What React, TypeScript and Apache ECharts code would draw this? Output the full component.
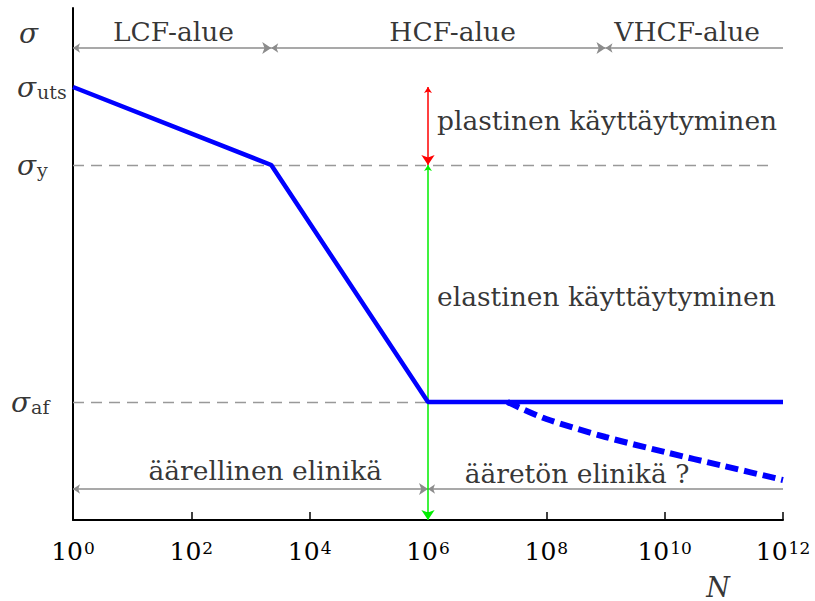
import React, { useEffect, useRef } from "react";
import * as echarts from "echarts";

// ---- data (stress levels in arbitrary units, N in cycles) ----
const curveN = [1, 2240, 1e6, 1e12];
const curveS = [433, 355, 118, 118];
const infN = [2.2e7, 1e8, 1e9, 1e10, 1e11, 1e12];
const infS = [118, 101, 83, 68, 54, 40];

const sigmaUts = 433;
const sigmaY = 355;
const sigmaAf = 118;
const kneeN = 2240;
const enduranceN = 1e6;
const vhcfN = 1e9;
const maxN = 1e12;
const minN = 1;
const yMax = 512;
const regionLevel = 472;
const lifeLevel = 31;
const yieldDashEnd = 5.6e11;

const tickExponents = [0, 2, 4, 6, 8, 10, 12];

const FONT = "DejaVu Serif";

export default function App() {
  const ref = useRef<HTMLDivElement>(null);
  useEffect(() => {
    if (!ref.current) return;
    const chart = echarts.init(ref.current, undefined, { renderer: "svg" });

    const gray = "#8c8c8c";

    const baseRich = {
      t: { fontFamily: FONT, fontSize: 26.5, lineHeight: 28, color: "#000" },
      n: { fontFamily: FONT, fontStyle: "italic", fontSize: 27, lineHeight: 22, color: "#000" },
      s: { fontFamily: FONT, fontStyle: "italic", fontSize: 28, lineHeight: 28, verticalAlign: "top", color: "#000" },
      u: { fontFamily: FONT, fontSize: 19, lineHeight: 19, padding: [12, 0, 0, 1], verticalAlign: "bottom", color: "#000" },
    };

    const mk = (x: number, y: number, text: string, pos: [number, number], align: string) => ({
      value: [x, y],
      label: {
        show: true,
        formatter: text,
        position: pos,
        align,
        verticalAlign: "middle",
        color: "#000",
        textBorderWidth: 0,
        fontFamily: FONT,
        rich: baseRich,
      },
    });

    const annotations = [
      mk(minN, 487, "{s|σ}", [-54, 0], "left"),
      mk(minN, sigmaUts, "{s|σ}{u|uts}", [-56, 0], "left"),
      mk(minN, sigmaY, "{s|σ}{u|y}", [-56, 0], "left"),
      mk(minN, sigmaAf, "{s|σ}{u|af}", [-62, 0], "left"),
      mk(50, regionLevel, "{t|LCF-alue}", [0, -17], "center"),
      mk(2.6e6, regionLevel, "{t|HCF-alue}", [0, -17], "center"),
      mk(2.4e10, regionLevel, "{t|VHCF-alue}", [0, -17], "center"),
      mk(enduranceN, 400, "{t|plastinen käyttäytyminen}", [9, 0], "left"),
      mk(enduranceN, 224, "{t|elastinen käyttäytyminen}", [9, 0], "left"),
      mk(1780, lifeLevel, "{t|äärellinen elinikä}", [0, -19], "center"),
      mk(3.3e8, lifeLevel, "{t|ääretön elinikä ?}", [0, -16], "center"),
      mk(maxN, 0, "{n|N}", [-65, 67], "center"),
    ];

    const arrowLines = (data: any[], color: string, symbols: string[], width = 1.5, size: any = [7, 9]) => ({
      type: "lines",
      coordinateSystem: "cartesian2d",
      symbol: symbols,
      symbolSize: size,
      silent: true,
      lineStyle: { color, width, opacity: 1 },
      data: data.map((c) => ({ coords: c })),
      z: 3,
    });

    chart.setOption({
      animation: false,
      grid: { left: 73, right: 32, top: 8, bottom: 81, containLabel: false, outerBoundsMode: "none" },
      xAxis: {
        type: "log",
        logBase: 10,
        min: minN,
        max: maxN,
        interval: 2,
        splitNumber: 6,
        axisLine: { show: true, lineStyle: { color: "#000", width: 2 } },
        axisTick: { show: true, inside: true, length: 8, lineStyle: { color: "#000", width: 1.5 } },
        minorTick: { show: false },
        splitLine: { show: false },
        axisLabel: {
          show: true,
          margin: 19,
          showMinLabel: true,
          showMaxLabel: true,
          formatter: (v: number) => {
            const e = Math.round(Math.log10(v));
            return tickExponents.includes(e) ? `{b|10}{s|${e}}` : "";
          },
          rich: {
            b: { fontFamily: FONT, fontSize: 25, lineHeight: 25, verticalAlign: "bottom", color: "#000" },
            s: { fontFamily: FONT, fontSize: 17, lineHeight: 17, padding: [0, 0, 17, 1], verticalAlign: "top", color: "#000" },
          },
        },
      },
      yAxis: {
        type: "value",
        min: 0,
        max: yMax,
        axisLine: { show: true, lineStyle: { color: "#000", width: 2 } },
        axisTick: { show: false },
        axisLabel: { show: false },
        splitLine: { show: false },
      },
      series: [
        {
          type: "lines",
          coordinateSystem: "cartesian2d",
          silent: true,
          symbol: ["none", "none"],
          lineStyle: { color: "#999", width: 1.3, type: [11, 7], opacity: 1 },
          data: [
            { coords: [[minN, sigmaY], [yieldDashEnd, sigmaY]] },
            { coords: [[minN, sigmaAf], [enduranceN, sigmaAf]] },
          ],
          z: 1,
        },
        arrowLines(
          [
            [[minN, regionLevel], [kneeN, regionLevel]],
            [[kneeN, regionLevel], [vhcfN, regionLevel]],
            [[minN, lifeLevel], [enduranceN, lifeLevel]],
          ],
          gray,
          ["arrow", "arrow"]
        ),
        arrowLines(
          [
            [[vhcfN, regionLevel], [maxN, regionLevel]],
            [[enduranceN, lifeLevel], [maxN, lifeLevel]],
          ],
          gray,
          ["arrow", "none"]
        ),
        arrowLines([[[enduranceN, sigmaUts], [enduranceN, sigmaY]]], "#ff0000", ["arrow", "arrow"], 1.5, [6, 10]),
        arrowLines([[[enduranceN, sigmaY], [enduranceN, 0]]], "#00ee00", ["arrow", "arrow"], 1.5, [6, 10]),
        {
          type: "line",
          data: infN.map((n, i) => [n, infS[i]]),
          showSymbol: false,
          smooth: 0.3,
          lineStyle: { color: "#0000ff", width: 6, type: [13, 6], cap: "butt" },
          z: 4,
        },
        {
          type: "line",
          data: curveN.map((n, i) => [n, curveS[i]]),
          showSymbol: false,
          lineStyle: { color: "#0000ff", width: 4.5 },
          z: 5,
        },
        {
          type: "scatter",
          symbolSize: 0,
          silent: true,
          clip: false,
          data: annotations,
          z: 6,
        },
      ],
    });
    return () => chart.dispose();
  }, []);
  return (
    <div
      ref={ref}
      style={{ position: "fixed", left: 0, top: 0, width: 815, height: 601, background: "#fff" }}
    />
  );
}
